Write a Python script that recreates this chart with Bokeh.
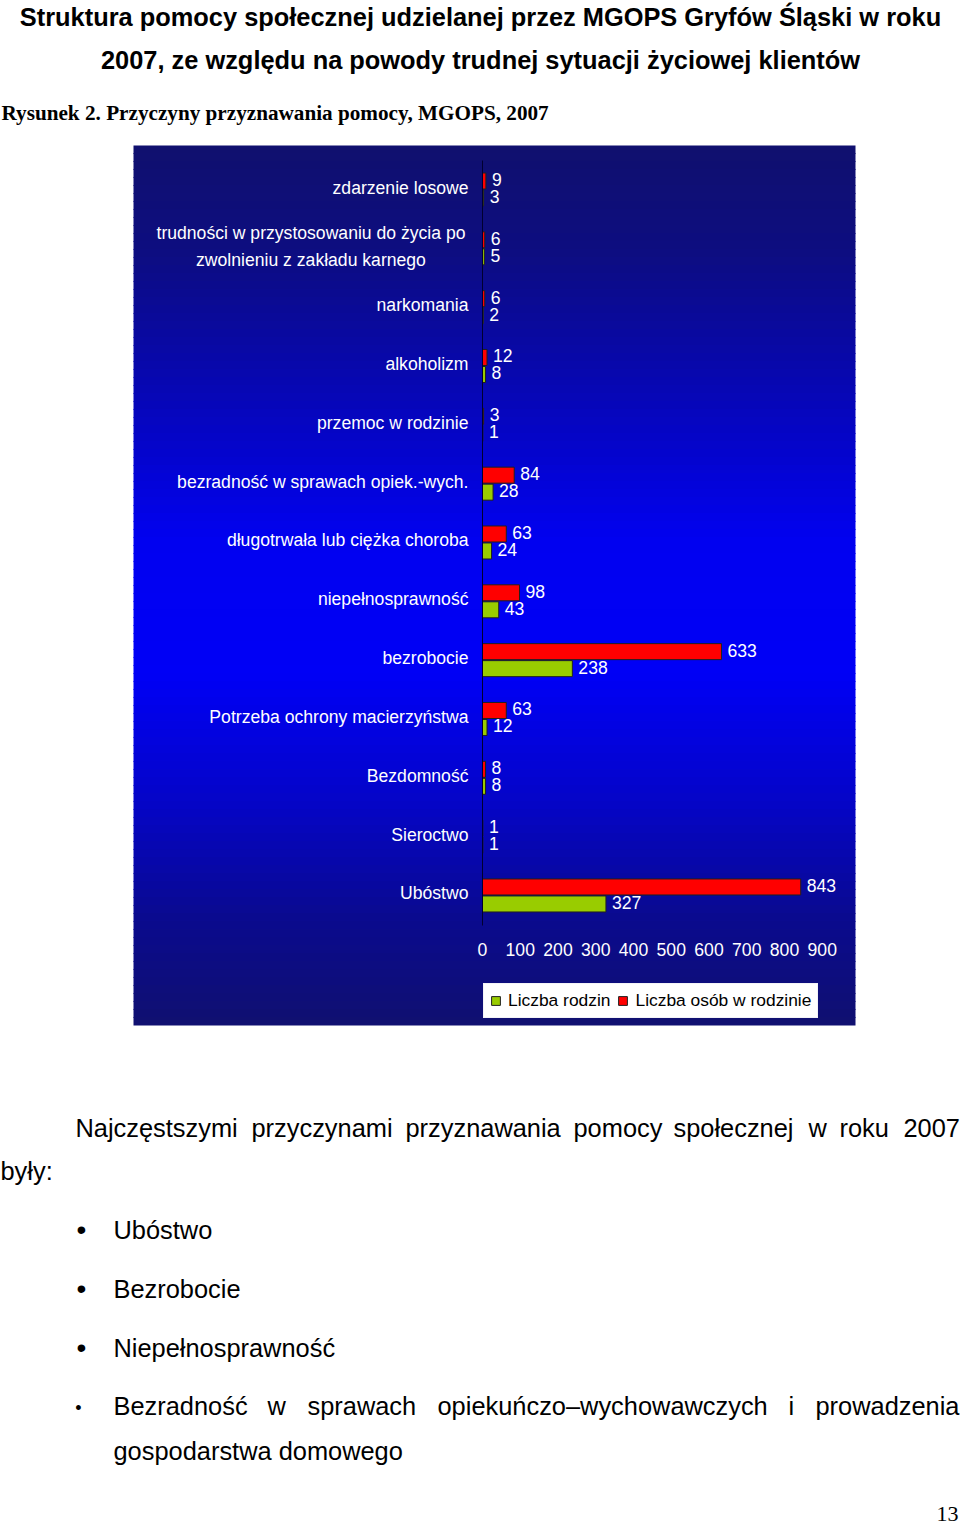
from bokeh.plotting import figure
from bokeh.models import (Range1d, LinearAxis, FixedTicker, Label, Legend,
                          LegendItem, ColumnDataSource)
from bokeh.core.properties import value
from bokeh.embed import file_html
from bokeh.resources import INLINE

# ---------------- data ----------------
categories = [
    "zdarzenie losowe",
    "trudności w przystosowaniu do życia po\nzwolnieniu z zakładu karnego",
    "narkomania",
    "alkoholizm",
    "przemoc w rodzinie",
    "bezradność w sprawach opiek.-wych.",
    "długotrwała lub ciężka choroba",
    "niepełnosprawność",
    "bezrobocie",
    "Potrzeba ochrony macierzyństwa",
    "Bezdomność",
    "Sieroctwo",
    "Ubóstwo",
]
liczba_osob = [9, 6, 6, 12, 3, 84, 63, 98, 633, 63, 8, 1, 843]
liczba_rodzin = [3, 5, 2, 8, 1, 28, 24, 43, 238, 12, 8, 1, 327]
x_ticks = [0, 100, 200, 300, 400, 500, 600, 700, 800, 900]
series_names = ["Liczba rodzin", "Liczba osób w rodzinie"]

title_lines = [
    "Struktura pomocy społecznej udzielanej przez MGOPS Gryfów Śląski w roku",
    "2007, ze względu na powody trudnej sytuacji życiowej klientów",
]
caption = "Rysunek 2. Przyczyny przyznawania pomocy, MGOPS, 2007"
intro_words = ["Najczęstszymi", "przyczynami", "przyznawania", "pomocy",
               "społecznej", "w", "roku", "2007"]
intro_end = "były:"
bullets = ["Ubóstwo", "Bezrobocie", "Niepełnosprawność"]
last_bullet_words = ["Bezradność", "w", "sprawach", "opiekuńczo–wychowawczych",
                     "i", "prowadzenia"]
last_bullet_cont = "gospodarstwa domowego"
page_number = "13"

# ---------------- layout (page pixels of the reference) ----------------
W, H = 960, 1525
BOX_L, BOX_R, BOX_T, BOX_B = 133, 855, 145, 1025
X0_PX, PX_PER_UNIT = 482, 0.3775
ROW0_PX, ROW_STEP = 189, 58.83
DODGE = 8.5 / ROW_STEP
BAR_H = 16.0 / ROW_STEP
FONT = "Liberation Sans"
SERIF = "Liberation Serif"
CHART_FS = "17.6px"
BODY_FS = 25.4


def xdata(px):
    return (px - X0_PX) / PX_PER_UNIT


def ydata(py):
    return (py - ROW0_PX) / ROW_STEP


p = figure(width=W, height=H,
           x_range=Range1d(xdata(0), xdata(W)),
           y_range=Range1d(ydata(H), ydata(0)),
           x_axis_type=None, y_axis_type=None,
           output_backend="svg", toolbar_location=None,
           min_border=0, min_border_left=0, min_border_right=0,
           min_border_top=0, min_border_bottom=0)
p.outline_line_color = None
p.border_fill_color = "white"
p.background_fill_color = "white"

# ---------------- gradient chart area ----------------
stops = [(0.0, (16, 16, 110)), (0.12, (13, 13, 128)), (0.3, (6, 6, 188)),
         (0.45, (1, 1, 240)), (0.6, (0, 0, 246)), (0.75, (5, 5, 198)),
         (0.88, (10, 10, 142)), (1.0, (16, 16, 112))]


def grad(t):
    for (t0, c0), (t1, c1) in zip(stops[:-1], stops[1:]):
        if t0 <= t <= t1:
            f = (t - t0) / (t1 - t0)
            return "#%02x%02x%02x" % tuple(int(round(a + (b - a) * f)) for a, b in zip(c0, c1))
    return "#%02x%02x%02x" % stops[-1][1]


NB = 110
band = (BOX_B - BOX_T) / NB
tops, bots, cols = [], [], []
for k in range(NB):
    py0 = BOX_T + k * band
    tops.append(ydata(py0 - (0.6 if k else 0)))
    bots.append(ydata(py0 + band + (0.6 if k < NB - 1 else 0)))
    cols.append(grad((k + 0.5) / NB))
p.quad(left=xdata(BOX_L), right=xdata(BOX_R), top=tops, bottom=bots,
       fill_color=cols, line_color=None)

# ---------------- bars ----------------
idx = list(range(len(categories)))
src = ColumnDataSource(dict(
    y_osoby=[i - DODGE for i in idx], y_rodziny=[i + DODGE for i in idx],
    osoby=liczba_osob, rodziny=liczba_rodzin,
    t_osoby=[str(v) for v in liczba_osob], t_rodziny=[str(v) for v in liczba_rodzin],
))

r_red = p.hbar(y="y_osoby", left=0, right="osoby", height=BAR_H, source=src,
               fill_color="#ff0000", line_color="#202020", line_width=1)
r_green = p.hbar(y="y_rodziny", left=0, right="rodziny", height=BAR_H, source=src,
                 fill_color="#99cc00", line_color="#202020", line_width=1)

lbl_style = dict(text_font=value(FONT), text_font_size=CHART_FS, text_color="white",
                 text_baseline="middle", text_align="left", x_offset=6, y_offset=-1.5)
p.text(x="osoby", y="y_osoby", text="t_osoby", source=src, **lbl_style)
p.text(x="rodziny", y="y_rodziny", text="t_rodziny", source=src, **lbl_style)

# category labels
single = [(i, c) for i, c in zip(idx, categories) if "\n" not in c]
multi = [(i, c) for i, c in zip(idx, categories) if "\n" in c]
p.text(x=[0] * len(single), y=[i for i, _ in single], text=[c for _, c in single],
       x_offset=-14, y_offset=-2, text_align="right", text_baseline="middle",
       text_font=value(FONT), text_font_size=CHART_FS, text_color="white")
p.text(x=[0] * len(multi), y=[i for i, _ in multi], text=[c for _, c in multi],
       x_offset=-171.5, y_offset=-2, text_align="center", text_baseline="middle",
       text_line_height=1.34,
       text_font=value(FONT), text_font_size=CHART_FS, text_color="white")

# ---------------- axes ----------------
xaxis = LinearAxis(fixed_location=ydata(929), ticker=FixedTicker(ticks=x_ticks))
xaxis.axis_line_color = None
xaxis.major_tick_line_color = None
xaxis.minor_tick_line_color = None
xaxis.major_label_standoff = 7
xaxis.major_label_text_color = "white"
xaxis.major_label_text_font = FONT
xaxis.major_label_text_font_size = CHART_FS
p.add_layout(xaxis, "below")

yaxis = LinearAxis(fixed_location=0, ticker=FixedTicker(ticks=[]),
                   bounds=(ydata(160), ydata(925)))
yaxis.axis_line_color = "#000030"
yaxis.axis_line_width = 1
yaxis.major_tick_line_color = None
yaxis.minor_tick_line_color = None
yaxis.major_label_text_font_size = "0px"
p.add_layout(yaxis, "left")

# ---------------- legend ----------------
legend = Legend(items=[LegendItem(label=series_names[0], renderers=[r_green]),
                       LegendItem(label=series_names[1], renderers=[r_red])],
                orientation="horizontal", location=(483, H - 1018))
legend.background_fill_color = "white"
legend.background_fill_alpha = 1.0
legend.border_line_color = "#e8e8f0"
legend.border_line_width = 1
legend.label_text_font = FONT
legend.label_text_font_size = "17.4px"
legend.label_text_color = "black"
legend.glyph_width = 11
legend.glyph_height = 11
legend.label_standoff = 7
legend.spacing = 7
legend.padding = 6
legend.margin = 0
legend.label_height = 21
p.add_layout(legend)


# ---------------- page text ----------------
def page_label(xref, yref, text, size, font=FONT, bold=False, align="left"):
    p.add_layout(Label(x=xref, y=H - yref, x_units="screen", y_units="screen",
                       text=text, text_font=font, text_font_size=f"{size}px",
                       text_font_style="bold" if bold else "normal",
                       text_color="black", text_align=align, text_baseline="middle"))


page_label(480, 16, title_lines[0], 25.4, bold=True, align="center")
page_label(480, 59, title_lines[1], 25.4, bold=True, align="center")
page_label(1, 112, caption, 21.2, font=SERIF, bold=True)

intro_x = [75, 251, 405, 573, 673, 808, 839, 903]
for wx, w in zip(intro_x, intro_words):
    page_label(wx, 1127, w, BODY_FS)
page_label(0, 1170, intro_end, BODY_FS)

for yy, b in zip([1229, 1288, 1347], bullets):
    page_label(81, yy, "•", 28, align="center")
    page_label(113, yy, b, BODY_FS)
page_label(78, 1407, "•", 18, align="center")
last_x = [113, 267, 307, 437, 788, 815]
for wx, w in zip(last_x, last_bullet_words):
    page_label(wx, 1405, w, BODY_FS)
page_label(113, 1450, last_bullet_cont, BODY_FS)
page_label(958, 1513, page_number, 22, font=SERIF, align="right")

open("out.html", "w").write(file_html(p, INLINE))
